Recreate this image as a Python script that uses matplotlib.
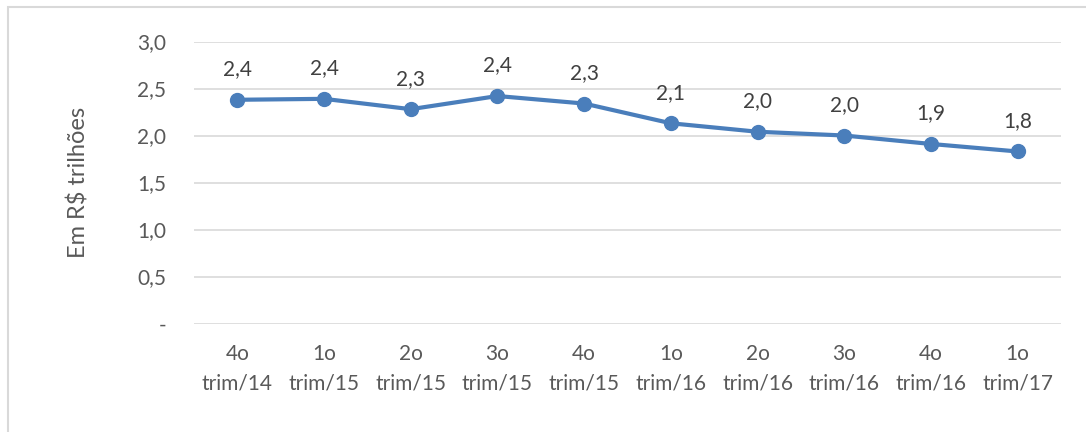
import matplotlib
matplotlib.use("Agg")
import matplotlib.pyplot as plt
from matplotlib.patches import Rectangle

categories = ["4o\ntrim/14", "1o\ntrim/15", "2o\ntrim/15", "3o\ntrim/15", "4o\ntrim/15",
              "1o\ntrim/16", "2o\ntrim/16", "3o\ntrim/16", "4o\ntrim/16", "1o\ntrim/17"]
values = [2.38, 2.39, 2.28, 2.42, 2.34, 2.13, 2.04, 2.00, 1.91, 1.83]
data_labels = ["2,4", "2,4", "2,3", "2,4", "2,3", "2,1", "2,0", "2,0", "1,9", "1,8"]
yticks = [0.0, 0.5, 1.0, 1.5, 2.0, 2.5, 3.0]
ytick_labels = ["-", "0,5", "1,0", "1,5", "2,0", "2,5", "3,0"]

plt.rcParams['font.family'] = ['Lato', 'DejaVu Sans']
gray = "#595959"

fig = plt.figure(figsize=(10.86, 4.32), dpi=100)
fig.patches.append(Rectangle((8/1086, -0.1), 1.2, (432-7)/432 + 0.1, transform=fig.transFigure,
                             fill=False, edgecolor="#d9d9d9", linewidth=1.5))
ax = fig.add_axes([194/1086, 1-323.5/432, (1061-194)/1086, (323.5-41.5)/432])

x = list(range(len(categories)))
ax.plot(x, values, color="#4a7ebb", linewidth=3, marker="o", markersize=10, zorder=3)
for xi, v, lab in zip(x, values, data_labels):
    ax.annotate(lab, (xi, v), xytext=(0, 22), textcoords="offset points",
                ha="center", va="center", fontsize=15, color="#404040")

ax.set_xlim(-0.5, len(categories) - 0.5)
ax.set_ylim(0, 3.0)
ax.set_yticks(yticks)
ax.set_yticklabels(ytick_labels, fontsize=15, color=gray)
ax.set_xticks(x)
ax.set_xticklabels(categories, fontsize=15, color=gray, linespacing=1.55)
ax.tick_params(axis="both", length=0)
ax.tick_params(axis="y", pad=20)
ax.tick_params(axis="x", pad=15)
ax.grid(axis="y", color="#d9d9d9", linewidth=1.2)
ax.set_axisbelow(True)
for s in ax.spines.values():
    s.set_visible(False)
ax.set_ylabel("Em R$ trilhões", fontsize=17, color=gray, labelpad=34)

fig.savefig("out.png", dpi=100)
